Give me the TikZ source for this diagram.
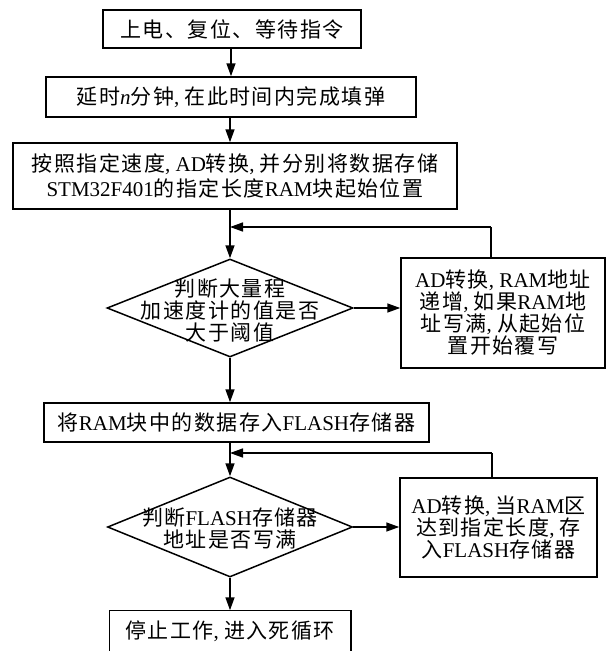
\documentclass[tikz,border=0pt]{standalone}
\usepackage{fontspec}
\setmainfont{Liberation Serif}
\newfontfamily\cjk[LetterSpace=7]{Noto Sans CJK SC}
\usetikzlibrary{arrows.meta,shapes.geometric}
\newcommand\C[1]{{\cjk #1}}
\newcommand\fsz{\fontsize{21}{25}\selectfont}
\newcommand\fsr{\fontsize{21}{22}\selectfont}
\begin{document}
\begin{tikzpicture}[x=1pt,y=-1pt,line width=1.5pt,
  box/.style={draw, rectangle, inner sep=0pt, align=center, font=\fsz},
  rbox/.style={draw, rectangle, inner sep=0pt, align=center, font=\fsr},
  dia/.style={draw, diamond, inner sep=0pt},
  dtext/.style={inner sep=0pt, align=center, font=\fsr},
  arr/.style={-{Triangle[length=13pt,width=9pt]}}]
\useasboundingbox (0,0) rectangle (612,651);

\node[box, minimum width=258pt, minimum height=38pt] (b1) at (232,29) {\C{上电、复位、等待指令}};
\node[box, minimum width=370pt, minimum height=40pt] (b2) at (231,97) {\C{延时}\textit{n}\C{分钟}, \C{在此时间内完成填弹}};
\node[box, minimum width=444pt, minimum height=66pt] (b3) at (235,176) {\C{按照指定速度}, AD\C{转换}, \C{并分别将数据存储}\\STM32F401\C{的指定长度}RAM\C{块起始位置}};

\node[dia, minimum width=246pt, minimum height=98pt] (d1) at (230,308) {};
\node[dtext] (d1t) at (230,310) {\C{判断大量程}\\\C{加速度计的值是否}\\\C{大于阈值}};
\node[rbox, minimum width=204pt, minimum height=110pt] (r1) at (503,313) {AD\C{转换}, RAM\C{地址}\\\C{递增}, \C{如果}RAM\C{地}\\\C{址写满}, \C{从起始位}\\\C{置开始覆写}};

\node[box, minimum width=385pt, minimum height=39pt] (b4) at (236.5,422.5) {\C{将}RAM\C{块中的数据存入}FLASH\C{存储器}};

\node[dia, minimum width=245pt, minimum height=100pt] (d2) at (230,527) {};
\node[dtext] (d2t) at (230,529) {\C{判断}FLASH\C{存储器}\\\C{地址是否写满}};
\node[rbox, minimum width=197pt, minimum height=99pt] (r2) at (498.5,527.5) {AD\C{转换}, \C{当}RAM\C{区}\\\C{达到指定长度}, \C{存}\\\C{入}FLASH\C{存储器}};

\node[box, draw=none, minimum width=240pt, minimum height=40pt] (b5) at (230,631) {\C{停止工作}, \C{进入死循环}};
\draw ([yshift=-10pt]b5.south west) -- (b5.north west) -- (b5.north east) -- ([yshift=-10pt]b5.south east);

\coordinate (j1) at (230,227);
\coordinate (k1) at (491,227);
\coordinate (j2) at (230,453);
\coordinate (k2) at (492,453);

\draw[arr] (b1.south -| b2.north) -- (b2.north);
\draw[arr] (b2.south -| d1.north) -- (b3.north -| d1.north);
\draw[arr] (b3.south -| d1.north) -- (d1.north);
\draw (k1 |- r1.north) -- (k1);
\draw[arr] (k1) -- (j1);
\draw[arr] (d1.east) -- (r1.west |- d1.east);
\draw[arr] (d1.south) -- (d1.south |- b4.north);
\draw[arr] (b4.south -| d2.north) -- (d2.north);
\draw (k2 |- r2.north) -- (k2);
\draw[arr] (k2) -- (j2);
\draw[arr] (d2.east) -- (r2.west |- d2.east);
\draw[arr] (d2.south) -- (b5.north -| d2.south);
\end{tikzpicture}
\end{document}
